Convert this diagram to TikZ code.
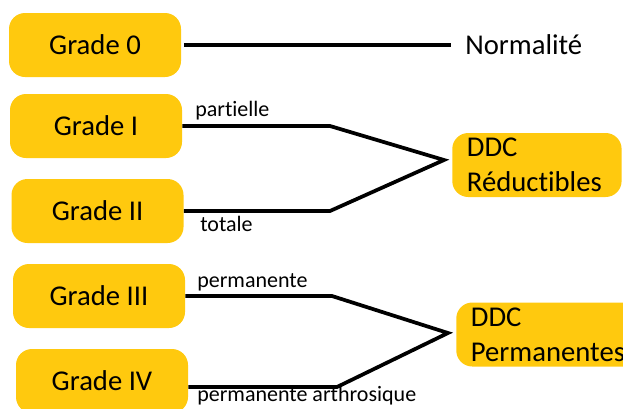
\documentclass[tikz,border=0pt]{standalone}
\usepackage{fontspec}
\setmainfont{Carlito}[Ligatures=NoCommon]
\definecolor{gold}{RGB}{255,201,14}

\begin{document}
\begin{tikzpicture}[x=0.75pt,y=-0.75pt,
  grade/.style={fill=gold,rounded corners=12pt,minimum width=129pt,minimum height=48pt,
    font=\fontsize{21.5}{24}\selectfont},
  ddc/.style={fill=gold,rounded corners=12pt,minimum height=48pt,inner xsep=11pt,
    inner ysep=2pt,align=left,anchor=west,font=\fontsize{21.5}{26}\selectfont},
  lbl/.style={font=\fontsize{16.5}{19}\selectfont,inner sep=0pt,anchor=base west},
  link/.style={line width=2.8pt}]
  \clip (0,0) rectangle (623,408);
  % grades
  \node[grade] (g0) at (95,45) {Grade 0};
  \node[grade] (g1) at (96,126) {Grade I};
  \node[grade] (g2) at (97.5,211) {Grade II};
  \node[grade] (g3) at (99,296) {Grade III};
  \node[grade] (g4) at (102,381) {Grade IV};
  % results
  \node[anchor=west,inner sep=3pt,font=\fontsize{21.5}{24}\selectfont] (norm) at (461,45) {Normalité};
  \node[ddc,text width=105pt] (dr) at (452,165) {DDC\\Réductibles};
  \node[ddc,text width=125pt] (dp) at (456,334.5) {DDC\\Permanentes};
  % bends
  \coordinate (k1) at (330,126);
  \coordinate (k2) at (330,211);
  \coordinate (k3) at (332,296);
  \coordinate (k4) at (337,387);
  \coordinate (ar) at (444,160);
  \coordinate (ap) at (448,333);
  % links
  \draw[link,shorten <=2pt,shorten >=7.5pt] (g0) -- (norm);
  \draw[link] (g1.east) -- (k1) -- (ar) -- (k2) -- (g2.east);
  \draw[link] (k3 -| g3.east) -- (k3) -- (ap) -- (k4) -- (k4 -| g4.east);
  % labels
  \node[lbl] (partielle) at (195,116) {partielle};
  \node[lbl] (totale) at (200,231) {totale};
  \node[lbl] (perm) at (197,287) {permanente};
  \node[lbl] (permarth) at (197,401) {permanente arthrosique};
\end{tikzpicture}
\end{document}
